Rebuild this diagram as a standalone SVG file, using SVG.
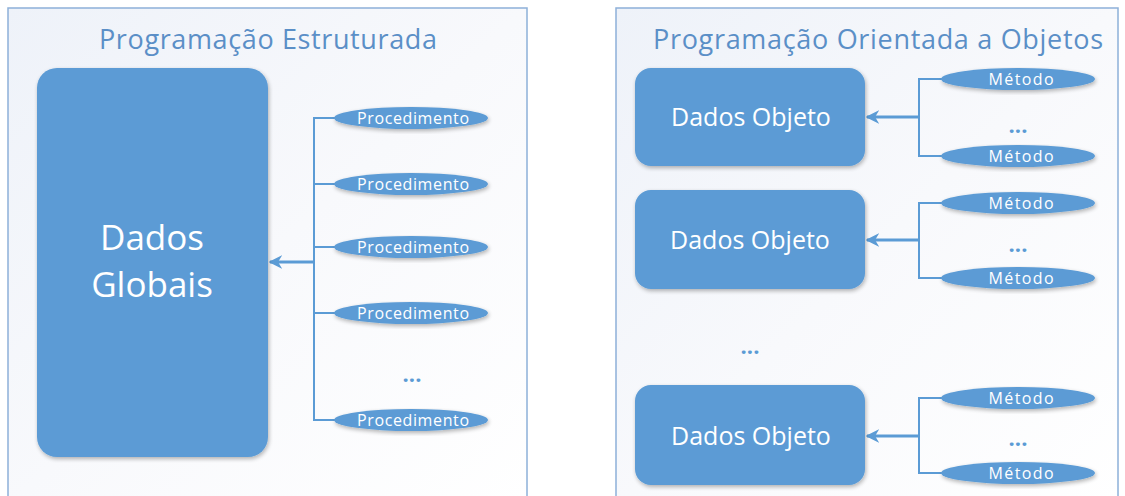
<svg xmlns="http://www.w3.org/2000/svg" width="1125" height="496" viewBox="0 0 1125 496">
<defs>
<linearGradient id="bg" x1="0" y1="0" x2="1" y2="1">
<stop offset="0" stop-color="#eef2f9"/>
<stop offset="0.5" stop-color="#f8f9fc"/>
<stop offset="1" stop-color="#ffffff"/>
</linearGradient>
<filter id="sh" x="-10%" y="-10%" width="125%" height="130%">
<feGaussianBlur in="SourceAlpha" stdDeviation="2"/>
<feOffset dx="1" dy="2" result="b"/>
<feComponentTransfer><feFuncA type="linear" slope="0.3"/></feComponentTransfer>
<feMerge><feMergeNode/><feMergeNode in="SourceGraphic"/></feMerge>
</filter>
<marker id="arr" viewBox="0 0 10 10" refX="9" refY="5" markerWidth="4.5" markerHeight="4.5" orient="auto" markerUnits="strokeWidth">
<path d="M0,0 L10,5 L0,10 L3,5 Z" fill="#5b9bd5"/>
</marker>
</defs>
<style>
.panel{fill:url(#bg);stroke:#8db0d9;stroke-width:1.5}
.title{font-family:"Open Sans",sans-serif;font-size:27px;fill:#5b8fc7;text-anchor:middle}
.box{fill:#5b9bd5;filter:url(#sh)}
.ell{fill:#5b9bd5;filter:url(#sh)}
.big{font-family:"Open Sans",sans-serif;font-size:35px;fill:#ffffff;text-anchor:middle}
.obj{font-family:"Open Sans",sans-serif;font-size:25px;fill:#ffffff;text-anchor:middle}
.small{font-family:"Open Sans",sans-serif;font-size:16px;fill:#ffffff;text-anchor:middle}
.dots{font-family:"Open Sans",sans-serif;font-size:22px;font-weight:bold;fill:#5b9bd5;text-anchor:middle}
.ln{fill:none;stroke:#5b9bd5;stroke-width:2}
.ar{fill:none;stroke:#5b9bd5;stroke-width:3}
</style>
<g id="panel-estruturada">
<rect class="panel" x="8" y="8" width="519" height="500"/>
<text class="title" x="268" y="49" textLength="338" lengthAdjust="spacing">Programação Estruturada</text>
</g>
<g id="panel-oo">
<rect class="panel" x="616" y="8" width="502" height="500"/>
<text class="title" x="878" y="49" textLength="450" lengthAdjust="spacing">Programação Orientada a Objetos</text>
</g>
<g id="connectors">
<path class="ln" d="M338,118 H314 V420 H338 M314,184 H338 M314,247 H338 M314,313 H338"/>
<path class="ar" d="M314,262 H270" marker-end="url(#arr)"/>
<path class="ln" d="M942,79 H919 V156 H942"/>
<path class="ar" d="M919,117 H867" marker-end="url(#arr)"/>
<path class="ln" d="M942,203 H919 V278 H942"/>
<path class="ar" d="M919,240 H867" marker-end="url(#arr)"/>
<path class="ln" d="M942,398 H919 V473 H942"/>
<path class="ar" d="M919,436 H867" marker-end="url(#arr)"/>
</g>
<g id="dados-globais">
<rect class="box" x="37" y="68" width="231" height="389" rx="20"/>
<text class="big" x="152" y="250">Dados</text>
<text class="big" x="152" y="297">Globais</text>
</g>
<g id="proc1"><ellipse class="ell" cx="411" cy="118" rx="77" ry="11"/><text class="small" x="413" y="124" textLength="112" lengthAdjust="spacing">Procedimento</text></g>
<g id="proc2"><ellipse class="ell" cx="411" cy="184" rx="77" ry="11"/><text class="small" x="413" y="190" textLength="112" lengthAdjust="spacing">Procedimento</text></g>
<g id="proc3"><ellipse class="ell" cx="411" cy="247" rx="77" ry="11"/><text class="small" x="413" y="253" textLength="112" lengthAdjust="spacing">Procedimento</text></g>
<g id="proc4"><ellipse class="ell" cx="411" cy="313" rx="77" ry="11"/><text class="small" x="413" y="319" textLength="112" lengthAdjust="spacing">Procedimento</text></g>
<g id="proc-dots"><text class="dots" x="412" y="382">...</text></g>
<g id="proc5"><ellipse class="ell" cx="411" cy="420" rx="77" ry="11"/><text class="small" x="413" y="426" textLength="112" lengthAdjust="spacing">Procedimento</text></g>
<g id="obj1">
<rect class="box" x="635" y="68" width="230" height="98" rx="16"/>
<text class="obj" x="751" y="126">Dados Objeto</text>
</g>
<g id="obj2">
<rect class="box" x="635" y="190" width="230" height="99" rx="16"/>
<text class="obj" x="750" y="249">Dados Objeto</text>
</g>
<g id="obj-dots"><text class="dots" x="750" y="354">...</text></g>
<g id="obj3">
<rect class="box" x="635" y="385" width="230" height="100" rx="16"/>
<text class="obj" x="751" y="445">Dados Objeto</text>
</g>
<g id="m1a"><ellipse class="ell" cx="1018" cy="79" rx="77" ry="11"/><text class="small" x="1021" y="85" textLength="65" lengthAdjust="spacing">Método</text></g>
<g id="m1d"><text class="dots" x="1018" y="133">...</text></g>
<g id="m1b"><ellipse class="ell" cx="1018" cy="156" rx="77" ry="11"/><text class="small" x="1021" y="162" textLength="65" lengthAdjust="spacing">Método</text></g>
<g id="m2a"><ellipse class="ell" cx="1018" cy="203" rx="77" ry="11"/><text class="small" x="1021" y="209" textLength="65" lengthAdjust="spacing">Método</text></g>
<g id="m2d"><text class="dots" x="1018" y="252">...</text></g>
<g id="m2b"><ellipse class="ell" cx="1018" cy="278" rx="77" ry="11"/><text class="small" x="1021" y="284" textLength="65" lengthAdjust="spacing">Método</text></g>
<g id="m3a"><ellipse class="ell" cx="1018" cy="398" rx="77" ry="11"/><text class="small" x="1021" y="404" textLength="65" lengthAdjust="spacing">Método</text></g>
<g id="m3d"><text class="dots" x="1018" y="446">...</text></g>
<g id="m3b"><ellipse class="ell" cx="1018" cy="473" rx="77" ry="11"/><text class="small" x="1021" y="479" textLength="65" lengthAdjust="spacing">Método</text></g>
</svg>
